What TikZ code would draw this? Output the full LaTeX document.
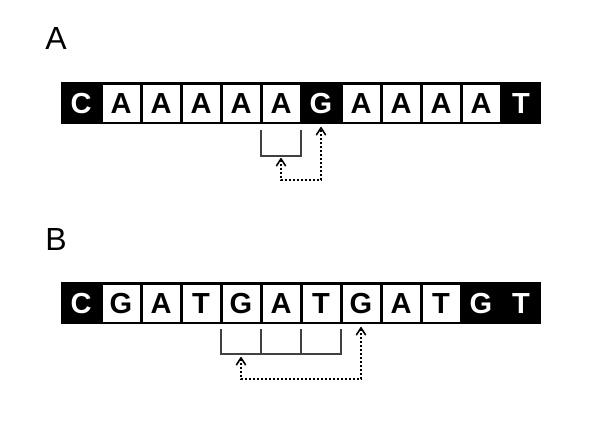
\documentclass[tikz,border=0pt]{standalone}
\usepackage{fontspec}
\setmainfont{Liberation Sans}
\usetikzlibrary{arrows.meta}
\begin{document}
\begin{tikzpicture}[x=1pt,y=-1pt,
  wcell/.style={fill=white,draw=none,minimum width=37pt,minimum height=37pt,inner sep=0pt,
    font=\fontsize{29}{29}\selectfont\bfseries,text=black},
  bcell/.style={fill=none,draw=none,minimum width=37pt,minimum height=37pt,inner sep=0pt,
    font=\fontsize{29}{29}\selectfont\bfseries,text=white},
  bar/.style={fill=black,draw=none},
  bracket/.style={draw=black!75,line width=1.5pt},
  jump/.style={draw=black,line width=1.5pt,dash pattern=on 2pt off 2pt,
    {Straight Barb[length=7pt,width=9pt,line width=1.6pt,round]}-{Straight Barb[length=7pt,width=9pt,line width=1.6pt,round]}},
  lab/.style={font=\fontsize{32}{32}\selectfont,inner sep=0pt}]
\useasboundingbox (0,0) rectangle (600,434);
\fill[white] (0,0) rectangle (600,434);
% labels
\node[lab] (labA) at (56,38) {A};
\node[lab] (labB) at (56,239) {B};
% row A
\fill[bar] (61,82) rectangle (541,124);
\foreach \i/\l/\s in {0/C/bcell,1/A/wcell,2/A/wcell,3/A/wcell,4/A/wcell,5/A/wcell,6/G/bcell,7/A/wcell,8/A/wcell,9/A/wcell,10/A/wcell,11/T/bcell}
  \node[\s] (a\i) at (81+40*\i,103.5) {\l};
\coordinate (abl) at (261,130);
\coordinate (abr) at (301,130);
\draw[bracket] (abl) -- ++(0,26) -| (abr);
\coordinate (as) at (281,158);
\coordinate (at) at (321,127);
\draw[jump] (as) -- (281,180) -| (at);
% row B
\fill[bar] (61,282) rectangle (541,324);
\foreach \i/\l/\s in {0/C/bcell,1/G/wcell,2/A/wcell,3/T/wcell,4/G/wcell,5/A/wcell,6/T/wcell,7/G/wcell,8/A/wcell,9/T/wcell,10/G/bcell,11/T/bcell}
  \node[\s] (b\i) at (81+40*\i,303.5) {\l};
\coordinate (bb0) at (221,329);
\coordinate (bb1) at (261,329);
\coordinate (bb2) at (301,329);
\coordinate (bb3) at (341,329);
\draw[bracket] (bb0) -- ++(0,25) -| (bb3);
\draw[bracket] (bb1) -- ++(0,25);
\draw[bracket] (bb2) -- ++(0,25);
\coordinate (bs) at (241,357);
\coordinate (bt) at (361,327);
\draw[jump] (bs) -- (241,379) -| (bt);
\end{tikzpicture}
\end{document}
